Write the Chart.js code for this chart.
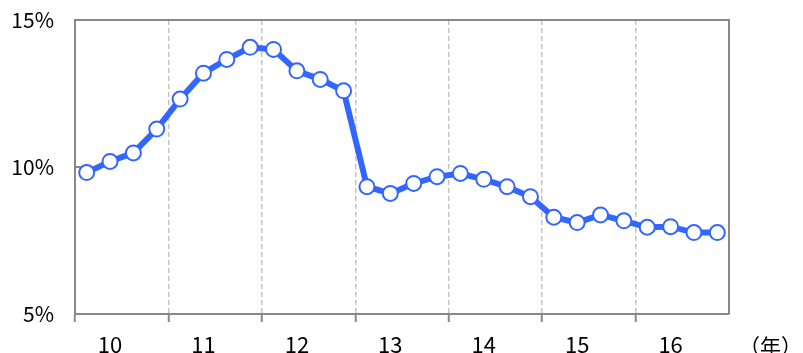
<!DOCTYPE html>
<html>
<head>
<meta charset="utf-8">
<script src="https://cdn.jsdelivr.net/npm/chart.js@4"></script>
<style>
html,body{margin:0;padding:0;background:#fff;}
#wrap{width:803px;height:353px;position:relative;}
</style>
</head>
<body>
<div id="wrap"><canvas id="c" width="803" height="353"></canvas></div>
<script>
// Quarterly categories, year label on the 2nd quarter of each year
const years = ['10','11','12','13','14','15','16'];
const quarterLabels = [];
years.forEach(y => { quarterLabels.push('', y, '', ''); });

const rateValues = [
  9.81, 10.19, 10.48, 11.29,
  12.31, 13.19, 13.66, 14.07,
  14.00, 13.27, 12.98, 12.59,
  9.33, 9.10, 9.44, 9.67,
  9.78, 9.58, 9.33, 8.99,
  8.29, 8.11, 8.37, 8.17,
  7.95, 7.97, 7.77, 7.77
];

const yTicks = [5, 10, 15];
const unitLabel = '（年）';

const FONT = '"Noto Sans CJK JP", "Liberation Sans", sans-serif';
const AXIS_COLOR = '#888888';
const BLUE = '#3366ff';

const framePlugin = {
  id: 'frame',
  beforeDatasetsDraw(chart) {
    const {ctx, chartArea: a} = chart;
    ctx.save();
    ctx.strokeStyle = AXIS_COLOR;
    ctx.lineWidth = 2;
    ctx.beginPath();
    ctx.moveTo(a.left, a.top);
    ctx.lineTo(a.right, a.top);
    ctx.lineTo(a.right, a.bottom);
    ctx.stroke();
    const ys = chart.scales.y;
    yTicks.forEach(v => {
      const py = ys.getPixelForValue(v);
      ctx.beginPath();
      ctx.moveTo(a.left, py);
      ctx.lineTo(a.left + 6, py);
      ctx.stroke();
    });
    ctx.restore();
  },
  afterDraw(chart) {
    const {ctx, chartArea: a} = chart;
    ctx.save();
    ctx.fillStyle = '#000';
    ctx.font = '21px ' + FONT;
    ctx.textAlign = 'left';
    ctx.textBaseline = 'middle';
    ctx.fillText(unitLabel, a.right + 10, 346);
    ctx.restore();
  }
};

new Chart(document.getElementById('c'), {
  type: 'line',
  data: {
    labels: quarterLabels,
    datasets: [{
      data: rateValues,
      borderColor: BLUE,
      borderWidth: 6,
      pointRadius: 7.5,
      pointBorderWidth: 2,
      pointBackgroundColor: '#ffffff',
      pointBorderColor: BLUE,
      tension: 0,
      clip: false
    }]
  },
  options: {
    responsive: false,
    animation: false,
    events: [],
    layout: { padding: { top: 20, right: 74, left: 0, bottom: 0 } },
    plugins: { legend: { display: false }, tooltip: { enabled: false } },
    scales: {
      x: {
        type: 'category',
        offset: true,
        afterFit(s) { s.height = 39; s.paddingLeft = 0; s.paddingRight = 0; },
        grid: {
          offset: true,
          drawOnChartArea: true,
          lineWidth: 1.5,
          color: ctx => (ctx.index % 4 === 0 && ctx.index > 0 && ctx.index < quarterLabels.length) ? '#c4c4c4' : 'rgba(0,0,0,0)',
          tickColor: ctx => (ctx.index % 4 === 0) ? AXIS_COLOR : 'rgba(0,0,0,0)',
          tickLength: 8,
          tickWidth: 2
        },
        border: { display: true, color: AXIS_COLOR, width: 2, dash: [5, 3] },
        ticks: {
          autoSkip: false,
          maxRotation: 0,
          minRotation: 0,
          padding: 9,
          color: '#000',
          font: { family: FONT, size: 22 }
        }
      },
      y: {
        min: 5,
        max: 15,
        afterFit(s) { s.width = 75; s.paddingTop = 0; s.paddingBottom = 0; },
        afterBuildTicks(s) { s.ticks = yTicks.map(v => ({ value: v })); },
        grid: { display: true, drawOnChartArea: false, drawTicks: false },
        border: { display: true, color: AXIS_COLOR, width: 2 },
        ticks: {
          padding: 21,
          color: '#000',
          font: { family: FONT, size: 21 },
          callback: v => v + '%'
        }
      }
    }
  },
  plugins: [framePlugin]
});
</script>
</body>
</html>
